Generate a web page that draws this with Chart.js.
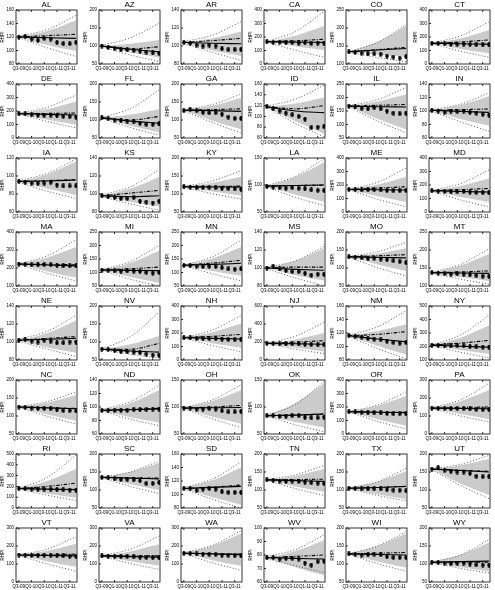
<!DOCTYPE html>
<html>
<head>
<meta charset="utf-8">
<script src="https://cdn.jsdelivr.net/npm/chart.js@4"></script>
<style>
  body { margin: 0; background: #fff; }
  #grid { position: relative; width: 495px; height: 590px; }
  #grid canvas { position: absolute; }
</style>
</head>
<body>
<div id="grid"></div>
<script>
// ---- data ----
const states = ["AL","AZ","AR","CA","CO","CT","DE","FL","GA","ID","IL","IN",
  "IA","KS","KY","LA","ME","MD","MA","MI","MN","MS","MO","MT",
  "NE","NV","NH","NJ","NM","NY","NC","ND","OH","OK","OR","PA",
  "RI","SC","SD","TN","TX","UT","VT","VA","WA","WV","WI","WY"];

const tickLabels = ["Q3-09", "Q1-10", "Q3-10", "Q1-11", "Q3-11"];
const tickPos = [0, 2, 4, 6, 8];
const quarters = [0, 1, 2, 3, 4, 5, 6, 7, 8, 9];
const lineX = [0, 4.5, 9];

// y axis [min, max, step]
const yAxis = [[80,160,20],[50,200,50],[80,140,20],[0,400,100],[100,250,50],[0,400,100],
  [0,400,100],[50,200,50],[50,200,50],[60,160,20],[50,250,50],[60,140,20],
  [60,120,20],[80,140,20],[50,200,50],[50,150,50],[0,400,100],[0,400,100],
  [100,400,100],[50,250,50],[50,250,50],[80,140,20],[50,200,50],[100,250,50],
  [80,140,20],[50,200,50],[0,400,100],[0,600,200],[80,160,20],[100,500,100],
  [50,200,50],[60,140,20],[50,150,50],[50,150,50],[0,400,100],[0,300,100],
  [0,500,100],[50,200,50],[80,160,20],[50,200,50],[50,200,50],[50,200,50],
  [0,300,100],[0,300,100],[0,300,100],[60,100,10],[50,200,50],[50,200,50]];

// actual RHPI (black dots)
const actual = [
  [120,121,117,115,118,117,112,110,110,112],[100,96,93,90,89,88,86,83,81,80],
  [104,103,101,100,101,100,97,96,96,96],[165,160,162,158,160,155,158,152,155,155],
  [134,132,130,128,128,127,122,119,116,120],[153,152,150,148,147,148,145,143,142,142],
  [180,178,172,170,168,170,165,160,158,155],[106,104,100,98,97,95,91,88,88,89],
  [126,130,126,121,120,120,116,108,104,104],[118,114,110,106,103,100,95,79,80,81],
  [168,165,160,158,162,158,150,142,140,142],[101,100,98,100,99,100,98,97,95,94],
  [94,93,92,92,92,93,90,89,89,89],[98,97,96,95,95,96,92,91,90,92],
  [120,119,117,118,118,117,116,115,114,113],[97,96,95,94,95,94,93,91,90,90],
  [167,166,163,165,165,163,160,158,158,160],[157,155,152,150,150,152,148,145,143,142],
  [222,220,218,218,220,218,215,212,212,212],[109,108,106,105,106,105,104,100,98,100],
  [126,125,123,122,123,122,118,113,112,113],[100,102,99,97,96,96,94,92,93,93],
  [131,130,128,126,127,125,123,120,118,115],[137,136,134,133,134,133,131,129,127,127],
  [102,103,101,100,102,101,99,99,100,100],[80,79,76,74,73,72,70,66,63,63],
  [165,163,160,158,160,158,155,152,150,150],[185,183,180,178,180,178,175,172,170,170],
  [116,115,114,112,111,110,108,106,105,106],[210,208,205,205,207,205,200,198,196,195],
  [125,124,122,121,121,120,117,115,115,114],[95,95,95,95,95,96,96,96,97,97],
  [98,98,96,96,97,96,93,91,91,92],[84,84,83,83,84,84,81,80,80,81],
  [165,163,160,158,157,156,153,150,150,150],[144,143,142,141,142,141,139,137,136,136],
  [180,178,175,174,175,172,170,168,166,166],[135,134,131,129,129,128,126,118,118,121],
  [109,109,106,108,109,108,104,103,103,103],[128,127,125,124,125,124,122,120,119,118],
  [105,104,103,103,103,103,101,100,99,98],[158,162,155,152,150,150,146,138,137,137],
  [150,149,148,148,149,148,147,145,143,143],[145,144,142,141,142,140,138,136,135,135],
  [160,158,156,155,154,153,150,148,146,145],[78,78,77,77.5,77.5,77,74,72.5,75,75.5],
  [128,127,125,126,127,126,120,118,118,118],[105,104,102,101,102,102,100,98,97,97]];

// forecasts at lineX
const solid = [[120,119,118],[100,91,84],[104,103,102.5],[165,162,160],[134,139,143],[153,150,147],
  [180,175,170],[106,97,91],[127,126,124],[118,110,107],[168,166,165],[101,99.5,98],
  [94,94.5,95.5],[98,97,98],[120,119.5,119],[98,99,100],[167,165,163],[157,152,148],
  [222,217,212],[109,108,107],[127,130,134],[100,98.5,97.5],[131,129.5,128],[137,136,135],
  [102,103,104],[80,75,72],[165,160,155],[185,180,175],[116,111,107],[210,202,195],
  [125,122.5,120],[95,96,97],[98,98.5,99],[84,85,87],[165,161,158],[144,142,140],
  [180,175,170],[135,133,131],[109,110.5,112],[128,126,124],[105,107,110],[158,154,150],
  [150,147.5,145],[145,141,138],[160,156,152],[78,77.5,77],[128,126.5,125],[105,106.5,108]];

const dashed = [[120,122,124],[100,92,98],[104,106,108.5],[165,172,183],[134,140,146],[153,163,178],
  [180,182,185],[106,100,110],[127,129,131],[118,114,120],[168,171,174],[101,102,103],
  [94,95,96],[98,101,104],[120,121,122],[98,99,100],[167,177,187],[157,165,175],
  [222,220,218],[109,114,120],[127,135,145],[100,101,101],[131,134,137],[137,139,142],
  [102,104,106],[80,80,96],[165,175,190],[185,198,215],[116,118,122],[210,225,245],
  [125,123,121],[95,96.5,98],[98,100,103],[84,85,87],[165,162,160],[144,147,150],
  [180,200,230],[135,134,133],[109,111,114],[128,129,130],[105,107,110],[158,155,152],
  [150,152,155],[145,145,145],[160,157,155],[78,79,80],[128,130,132],[105,105,105]];

const fanHi = [[120,129,145],[100,106,117],[104,108.5,116],[165,210,281],[134,161,205],[153,190,252],
  [180,214,270],[106,115,130],[127,140,162],[118,124,135],[168,185,212],[101,109,122],
  [94,102,116],[98,106,119],[120,131,148],[98,115,142],[167,203,262],[157,192,250],
  [222,258,316],[109,136,181],[127,152,194],[100,108,122],[131,140,155],[137,157,189],
  [102,110,124],[80,94,117],[165,205,270],[185,229,300],[116,123,133],[210,265,355],
  [125,137,158],[95,106,125],[98,111,131],[84,107,144],[165,210,282],[144,182,244],
  [180,250,360],[135,150,175],[109,121,140],[128,139,158],[105,123,152],[158,169,186],
  [150,174,213],[145,170,210],[160,202,270],[78,83,91],[128,150,185],[105,126,160]];

const fanLo = [[120,108,99],[100,82,68],[104,95,89],[165,131,104],[134,126,120],[153,112,79],
  [180,135,100],[106,84,66],[127,98,74],[118,91,68],[168,121,82],[101,88,78],
  [94,86,79],[98,91,86],[120,107,96],[98,82,69],[167,116,75],[157,112,75],
  [222,181,147],[109,83,62],[127,106,88],[100,92,86],[131,110,92],[137,124,114],
  [102,94,88],[80,70,61],[165,124,90],[185,138,95],[116,101,88],[210,174,145],
  [125,104,87],[95,85,77],[98,82,69],[84,72,62],[165,109,62],[144,111,84],
  [180,133,95],[135,116,100],[109,96,85],[128,110,95],[105,88,75],[158,118,86],
  [150,114,85],[145,115,90],[160,121,90],[78,71,65],[128,107,90],[105,91,80]];

const dotHi = [[121,131,152],[102,123,163],[105,112,127],[167,240,390],[135,160,208],[155,208,313],
  [182,228,318],[107,132,183],[128,143,172],[119,132,158],[170,192,237],[102,110,127],
  [95,103,119],[99,108,127],[121,136,165],[99,116,149],[169,220,325],[159,210,312],
  [224,268,357],[110,141,200],[128,158,219],[101,108,124],[132,145,171],[138,160,203],
  [103,112,129.5],[81,115,183],[167,222,330],[187,265,420],[117,129,153],[212,285,430],
  [126,140,167],[96,108,132],[99,113,141],[85,105,147],[167,215,312],[146,190,281],
  [182,285,490],[136,150,180],[110,123,148],[129,142,168],[106,123,160],[159,171,196],
  [152,183,252],[147,182,255],[162,204,285],[79,84,95],[129,150,190],[106,125,168]];

const dotLo = [[119,104,91],[98,75,57],[103,93,84],[163,102,50],[133,118,106],[151,95,50],
  [178,122,75],[105,79,58],[126,93,64],[117,87,62],[166,113,69],[100,84,70],
  [93,83,75],[97,89,82],[119,101,86],[97,77,62],[165,95,37],[155,90,37],
  [220,170,128],[108,75,50],[126,95,69],[99,89,80],[130,101,78],[136,119,105],
  [101,92,84],[79,66,56],[163,107,60],[183,122,70],[115,97,82],[208,158,115],
  [124,99,78],[94,82,72.5],[97,78,62],[83,67,54],[163,94,37],[142,101,66],
  [178,118,70],[134,110,90],[108,93,80],[127,104,85],[104,85,70],[157,113,76],
  [148,100,60],[143,103,70],[158,107,65],[77,72,67],[127,101,80],[104,88,75]];

// ---- drawing ----
const FONT = "'Liberation Sans', Arial, sans-serif";

// filled vertical ellipse used for the actual values
const marker = document.createElement("canvas");
marker.width = 4; marker.height = 5;
const mctx = marker.getContext("2d");
mctx.fillStyle = "#000";
mctx.beginPath();
mctx.ellipse(2, 2.5, 1.7, 2.4, 0, 0, Math.PI * 2);
mctx.fill();

// box frame, inward ticks and panel title
const framePlugin = {
  id: "frame",
  afterDraw(chart, args, opts) {
    const { ctx, chartArea: a, scales } = chart;
    ctx.save();
    ctx.setLineDash([]);
    ctx.strokeStyle = "#000";
    ctx.lineWidth = 0.8;
    ctx.strokeRect(a.left, a.top, a.right - a.left, a.bottom - a.top);
    ctx.beginPath();
    scales.y.ticks.forEach(t => {
      const y = scales.y.getPixelForValue(t.value);
      ctx.moveTo(a.left, y); ctx.lineTo(a.left + 2, y);
    });
    tickPos.forEach(v => {
      const x = scales.x.getPixelForValue(v);
      ctx.moveTo(x, a.top); ctx.lineTo(x, a.top + 2);
      ctx.moveTo(x, a.bottom); ctx.lineTo(x, a.bottom - 2);
    });
    ctx.stroke();
    ctx.fillStyle = "#000";
    ctx.font = "8px " + FONT;
    ctx.textAlign = "center";
    ctx.textBaseline = "middle";
    ctx.fillText(opts.title, (a.left + a.right) / 2, 4.5);
    ctx.restore();
  }
};

const pts = (xs, ys) => xs.map((x, k) => ({ x: x, y: ys[k] }));

const grid = document.getElementById("grid");
states.forEach((st, i) => {
  const col = i % 6, row = Math.floor(i / 6);
  const cv = document.createElement("canvas");
  cv.width = 82; cv.height = 74;
  cv.style.left = Math.round(col * 82.6) + "px";
  cv.style.top = row * 74 + "px";
  grid.appendChild(cv);

  const lineOpts = { pointRadius: 0, cubicInterpolationMode: "monotone", fill: false };
  new Chart(cv.getContext("2d"), {
    type: "line",
    data: {
      datasets: [
        { ...lineOpts, data: pts(lineX, fanHi[i]), borderWidth: 0, backgroundColor: "#cbcbcb", fill: "+1", order: 6 },
        { ...lineOpts, data: pts(lineX, fanLo[i]), borderWidth: 0, order: 6 },
        { ...lineOpts, data: pts(lineX, dotHi[i]), borderColor: "#333", borderWidth: 0.8, borderDash: [1, 2], order: 4 },
        { ...lineOpts, data: pts(lineX, dotLo[i]), borderColor: "#333", borderWidth: 0.8, borderDash: [1, 2], order: 4 },
        { ...lineOpts, data: pts(lineX, dashed[i]), borderColor: "#000", borderWidth: 1.1, borderDash: [3.5, 1.5, 1, 1.5], order: 3 },
        { ...lineOpts, data: pts(lineX, solid[i]), borderColor: "#000", borderWidth: 1.1, order: 2 },
        { data: pts(quarters, actual[i]), showLine: false, pointStyle: marker, pointRadius: 3, order: 1 }
      ]
    },
    options: {
      responsive: false,
      animation: false,
      events: [],
      layout: { padding: { top: 10, right: 5, left: 0, bottom: 0 } },
      plugins: {
        legend: { display: false },
        tooltip: { enabled: false },
        frame: { title: st }
      },
      scales: {
        x: {
          type: "linear",
          min: -0.45,
          max: 9.15,
          grid: { display: false, drawTicks: false },
          border: { display: false },
          afterBuildTicks: s => { s.ticks = tickPos.map(v => ({ value: v })); },
          afterFit: s => { s.height = 10; },
          ticks: {
            autoSkip: false, maxRotation: 0, minRotation: 0, padding: 2,
            color: "#000", font: { size: 4.5, family: FONT },
            callback: v => tickLabels[tickPos.indexOf(v)]
          }
        },
        y: {
          min: yAxis[i][0],
          max: yAxis[i][1],
          grid: { display: false, drawTicks: false },
          border: { display: false },
          afterFit: s => { s.width = 16; },
          ticks: { stepSize: yAxis[i][2], padding: 2, color: "#000", font: { size: 4.5, family: FONT } },
          title: { display: true, text: "RHPI", color: "#000", padding: 0, font: { size: 4.5, family: FONT } }
        }
      }
    },
    plugins: [framePlugin]
  });
});
</script>
</body>
</html>
